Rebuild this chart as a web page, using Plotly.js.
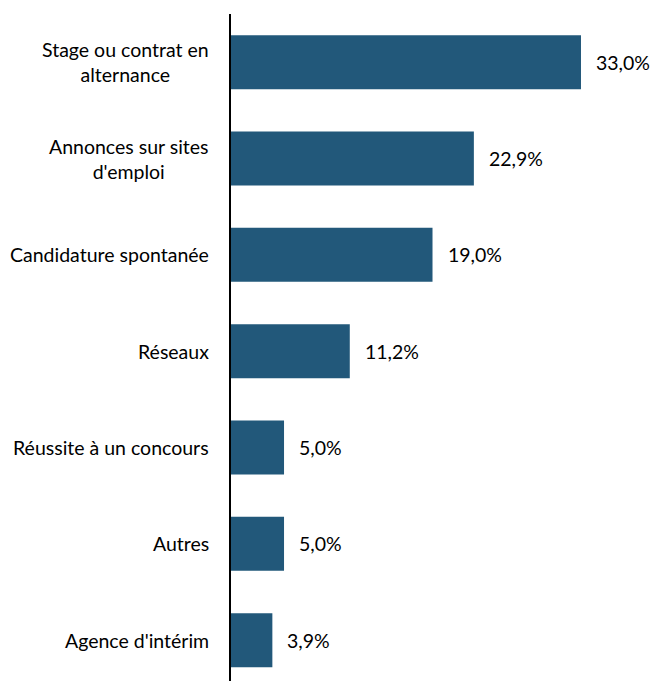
<!DOCTYPE html>
<html><head><meta charset="utf-8">
<script src="https://cdn.plot.ly/plotly-3.0.1.min.js"></script>
<style>body{margin:0;background:#fff}#c{width:653px;height:683px}</style>
</head><body><div id="c"></div>
<script>
const categories = ["Stage ou contrat en<br>alternance","Annonces sur sites<br>d'emploi","Candidature spontanée","Réseaux","Réussite à un concours","Autres","Agence d'intérim"];
const values = [33.0, 22.9, 19.0, 11.2, 5.0, 5.0, 3.9];

const FONT = "Lato, 'Open Sans', sans-serif";
const annotations = [];
categories.forEach((c, i) => {
  annotations.push({xref:'paper', x:0, yref:'y', y:c, text:c, showarrow:false,
    xanchor:'right', align:'center', xshift:-20,
    font:{family:FONT, size:19.5, color:'#000'}});
  annotations.push({xref:'x', x:values[i], yref:'y', y:c,
    text: values[i].toFixed(1).replace('.', ',') + '%', showarrow:false,
    xanchor:'left', xshift:13, font:{family:FONT, size:19.5, color:'#000'}});
});

Plotly.newPlot('c', [{
  type:'bar', orientation:'h', x:values, y:categories,
  marker:{color:'#22587a'}, width:0.56, hoverinfo:'none'
}], {
  width:653, height:683, margin:{l:231, r:0, t:14, b:2},
  paper_bgcolor:'#fff', plot_bgcolor:'#fff', showlegend:false,
  xaxis:{range:[0, 39.79], showgrid:false, zeroline:false, showticklabels:false, ticks:''},
  yaxis:{type:'category', categoryarray:categories, range:[6.424, -0.5],
    showline:true, linecolor:'#000', linewidth:2, showgrid:false, zeroline:false,
    showticklabels:false, ticks:''},
  annotations: annotations
}, {displayModeBar:false, staticPlot:true});
</script></body></html>
